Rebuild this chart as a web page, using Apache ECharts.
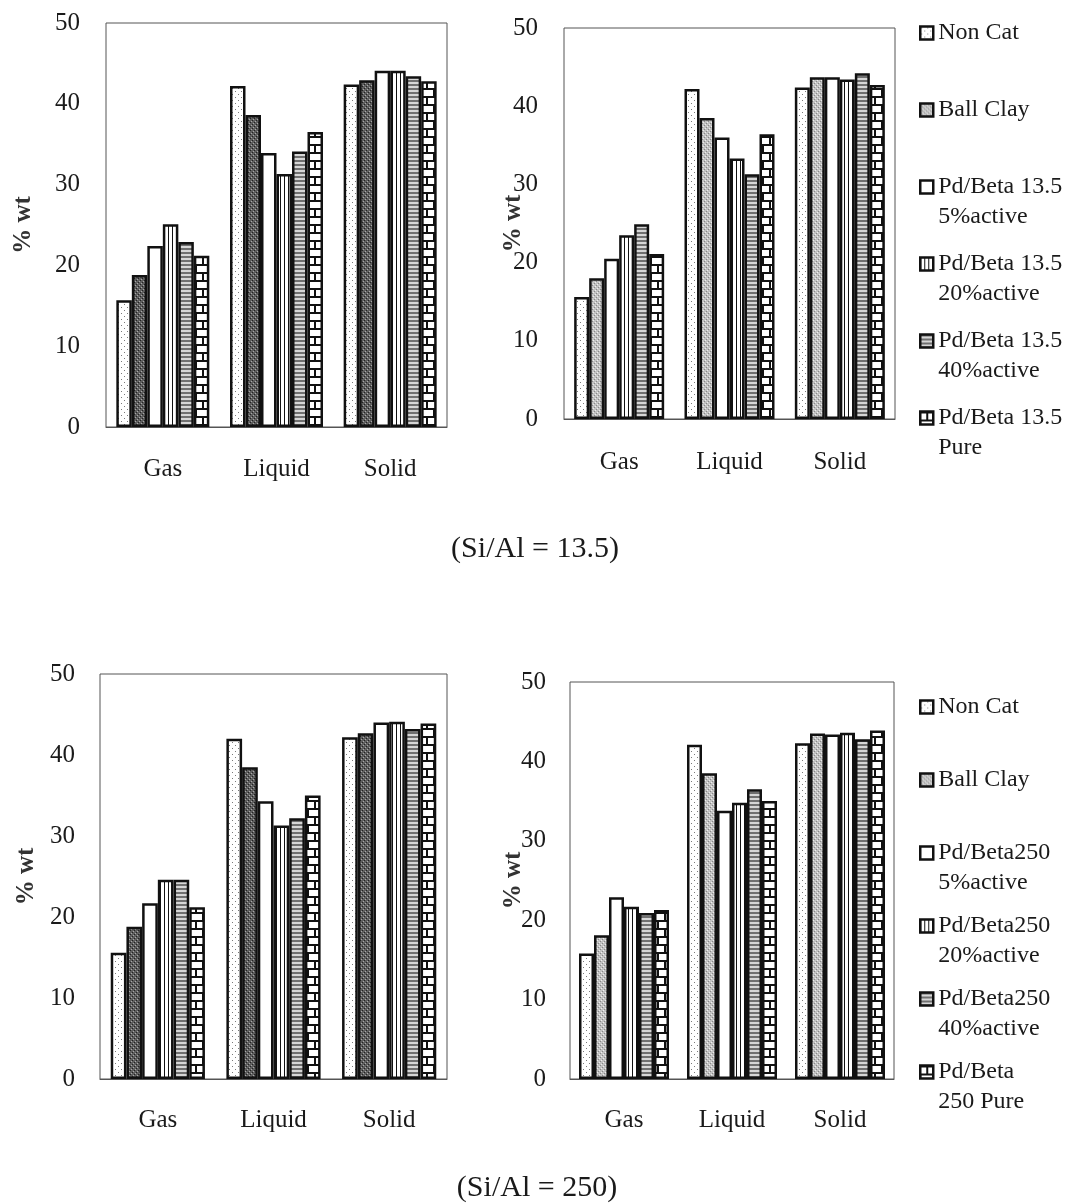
<!DOCTYPE html>
<html>
<head>
<meta charset="utf-8">
<title>Product distribution (%wt)</title>
<script src="https://cdn.jsdelivr.net/npm/echarts@6/dist/echarts.min.js"></script>
<style>
  html, body { margin: 0; padding: 0; background: #fff; }
  #main { width: 1083px; height: 1203px; }
</style>
</head>
<body>
<div id="main"></div>
<script>
// ---- data -------------------------------------------------------------
const categories = ['Gas', 'Liquid', 'Solid'];
const yTicks = { min: 0, max: 50, step: 10 };

const namesSi135 = ['Non Cat', 'Ball Clay', 'Pd/Beta 13.5\n5%active', 'Pd/Beta 13.5\n20%active', 'Pd/Beta 13.5\n40%active', 'Pd/Beta 13.5\nPure'];
const namesSi250 = ['Non Cat', 'Ball Clay', 'Pd/Beta250\n5%active', 'Pd/Beta250\n20%active', 'Pd/Beta250\n40%active', 'Pd/Beta\n250 Pure'];

// Si/Al = 13.5, left panel  (Gas, Liquid, Solid)
const a_nonCat   = [15.7, 42.2, 42.4];
const a_ballClay = [18.8, 38.6, 42.9];
const a_act5     = [22.4, 33.9, 44.1];
const a_act20    = [25.1, 31.3, 44.1];
const a_act40    = [22.9, 34.1, 43.4];
const a_pure     = [21.2, 36.5, 42.8];

// Si/Al = 13.5, right panel
const b_nonCat   = [15.6, 42.2, 42.4];
const b_ballClay = [18.0, 38.5, 43.7];
const b_act5     = [20.5, 36.0, 43.7];
const b_act20    = [23.5, 33.3, 43.4];
const b_act40    = [24.9, 31.3, 44.2];
const b_pure     = [21.1, 36.4, 42.7];

// Si/Al = 250, left panel
const c_nonCat   = [15.6, 42.0, 42.2];
const c_ballClay = [18.8, 38.5, 42.7];
const c_act5     = [21.7, 34.3, 44.0];
const c_act20    = [24.6, 31.3, 44.1];
const c_act40    = [24.6, 32.2, 43.2];
const c_pure     = [21.2, 35.0, 43.9];

// Si/Al = 250, right panel
const d_nonCat   = [15.8, 42.1, 42.3];
const d_ballClay = [18.1, 38.5, 43.5];
const d_act5     = [22.9, 33.8, 43.4];
const d_act20    = [21.7, 34.8, 43.6];
const d_act40    = [20.9, 36.5, 42.8];
const d_pure     = [21.3, 35.0, 43.9];

const titles = ['(Si/Al = 13.5)', '(Si/Al = 250)'];

// ---- fill patterns ----------------------------------------------------
function pattern(w, h, draw) {
  const c = document.createElement('canvas');
  c.width = w; c.height = h;
  const g = c.getContext('2d');
  draw(g, w, h);
  return { image: c, repeat: 'repeat' };
}
const fills = {
  dots: pattern(6, 6, (g) => {
    g.fillStyle = '#fff'; g.fillRect(0, 0, 6, 6);
    g.fillStyle = '#7a7a7a'; g.fillRect(1, 1, 1, 1); g.fillRect(4, 4, 1, 1);
  }),
  darkStipple: pattern(4, 4, (g) => {
    g.fillStyle = '#5e5e5e'; g.fillRect(0, 0, 4, 4);
    g.fillStyle = '#222'; g.fillRect(0, 0, 1, 1); g.fillRect(2, 2, 1, 1);
    g.fillStyle = '#a8a8a8'; g.fillRect(1, 3, 1, 1); g.fillRect(3, 1, 1, 1);
  }),
  lightGray: pattern(4, 4, (g) => {
    g.fillStyle = '#c2c2c2'; g.fillRect(0, 0, 4, 4);
    g.fillStyle = '#888'; g.fillRect(0, 1, 1, 1); g.fillRect(2, 3, 1, 1);
    g.fillStyle = '#eeeeee'; g.fillRect(1, 0, 1, 1); g.fillRect(3, 2, 1, 1);
  }),
  plain: '#ffffff',
  vlines: pattern(4, 4, (g) => {
    g.fillStyle = '#fff'; g.fillRect(0, 0, 4, 4);
    g.fillStyle = '#111'; g.fillRect(0, 0, 1, 4);
  }),
  hlines: pattern(4, 4, (g) => {
    g.fillStyle = '#d6d6d6'; g.fillRect(0, 0, 4, 4);
    g.fillStyle = '#707070'; g.fillRect(0, 0, 4, 2);
  }),
  brick: pattern(14, 16, (g) => {
    g.fillStyle = '#fff'; g.fillRect(0, 0, 14, 16);
    g.fillStyle = '#111';
    g.fillRect(0, 0, 14, 2); g.fillRect(0, 8, 14, 2);
    g.fillRect(6, 2, 2, 6); g.fillRect(13, 10, 1, 6); g.fillRect(0, 10, 1, 6);
  })
};
const styleLeft  = [fills.dots, fills.darkStipple, fills.plain, fills.vlines, fills.hlines, fills.brick];
const styleRight = [fills.dots, fills.lightGray,   fills.plain, fills.vlines, fills.hlines, fills.brick];

// ---- panel layout -----------------------------------------------------
const FONT = "'Liberation Serif', 'Times New Roman', serif";
const panels = [
  { box: { left: 106, top: 23,  width: 341, height: 404 }, barW: 15.5, names: namesSi135, fillSet: styleLeft,
    values: [a_nonCat, a_ballClay, a_act5, a_act20, a_act40, a_pure], nameGap: 70, yMargin: 26, xMargin: 30 },
  { box: { left: 564, top: 28,  width: 331, height: 391 }, barW: 15,   names: namesSi135, fillSet: styleRight,
    values: [b_nonCat, b_ballClay, b_act5, b_act20, b_act40, b_pure], nameGap: 38, yMargin: 26, xMargin: 31 },
  { box: { left: 100, top: 674, width: 347, height: 405 }, barW: 15.7, names: namesSi250, fillSet: styleLeft,
    values: [c_nonCat, c_ballClay, c_act5, c_act20, c_act40, c_pure], nameGap: 61, yMargin: 25, xMargin: 29 },
  { box: { left: 570, top: 682, width: 324, height: 397 }, barW: 15,   names: namesSi250, fillSet: styleRight,
    values: [d_nonCat, d_ballClay, d_act5, d_act20, d_act40, d_pure], nameGap: 44, yMargin: 24, xMargin: 29 }
];

const grid = [], xAxis = [], yAxis = [], series = [];
panels.forEach((p, i) => {
  grid.push(Object.assign({
    show: true, borderColor: '#555', borderWidth: 1, backgroundColor: 'transparent',
    containLabel: false, outerBoundsMode: 'none'
  }, p.box));
  xAxis.push({
    type: 'category', gridIndex: i, data: categories,
    axisLine: { lineStyle: { color: '#555', width: 1 } },
    axisTick: { show: false },
    axisLabel: { margin: p.xMargin, fontSize: 25, color: '#1a1a1a', fontFamily: FONT }
  });
  yAxis.push({
    type: 'value', gridIndex: i, min: yTicks.min, max: yTicks.max, interval: yTicks.step,
    name: '% wt', nameLocation: 'middle', nameRotate: 90, nameGap: p.nameGap, nameMoveOverlap: false,
    nameTextStyle: { fontSize: 25, fontWeight: 'bold', color: '#333', fontFamily: FONT },
    axisLine: { show: false }, axisTick: { show: false }, splitLine: { show: false },
    axisLabel: { margin: p.yMargin, fontSize: 25, color: '#1a1a1a', fontFamily: FONT }
  });
  p.values.forEach((vals, k) => {
    series.push({
      type: 'bar', name: p.names[k], xAxisIndex: i, yAxisIndex: i,
      data: vals, barWidth: p.barW, barGap: '0%',
      itemStyle: { color: p.fillSet[k], borderColor: '#111', borderWidth: 2.5 },
      emphasis: { disabled: true }, silent: true
    });
  });
});

// Legend text: every entry takes three lines, the first line of the label sits in the middle
function legendText(name) {
  return name.indexOf('\n') >= 0 ? ' \n' + name : ' \n' + name + '\n ';
}
function legendFor(p, top, gap) {
  return {
    orient: 'vertical', left: 919, top: top, padding: 0, itemGap: gap,
    itemWidth: 13, itemHeight: 13, icon: 'rect', selectedMode: false,
    itemStyle: { borderColor: '#111', borderWidth: 2.5 },
    data: p.names.map((n, k) => ({ name: n, itemStyle: { color: p.fillSet[k], borderColor: '#111', borderWidth: 2.5 } })),
    formatter: legendText,
    textStyle: { fontSize: 24, lineHeight: 30, color: '#1a1a1a', fontFamily: FONT }
  };
}

const option = {
  animation: false,
  backgroundColor: '#fff',
  grid, xAxis, yAxis, series,
  legend: [legendFor(panels[1], -12, -13), legendFor(panels[3], 662, -17)],
  graphic: [
    { type: 'text', x: 535, y: 549, style: { text: titles[0], fontSize: 30, fontFamily: FONT, fill: '#1a1a1a', align: 'center', verticalAlign: 'middle' } },
    { type: 'text', x: 537, y: 1188, style: { text: titles[1], fontSize: 30, fontFamily: FONT, fill: '#1a1a1a', align: 'center', verticalAlign: 'middle' } }
  ]
};

const chart = echarts.init(document.getElementById('main'), null, { renderer: 'canvas' });
chart.setOption(option);
</script>
</body>
</html>
